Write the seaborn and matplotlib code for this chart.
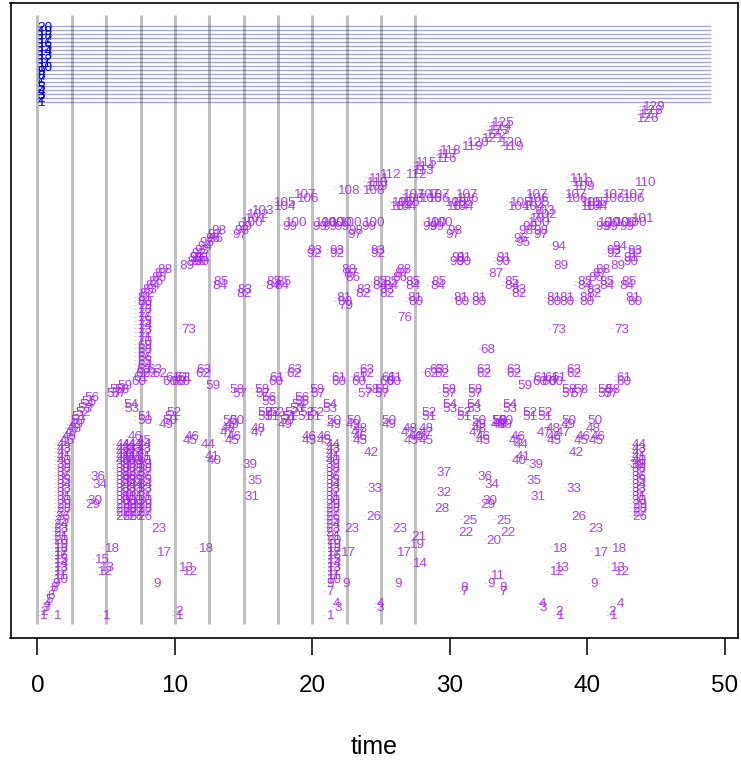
import matplotlib
matplotlib.use("Agg")
import matplotlib.pyplot as plt
import pandas as pd
import seaborn as sns

# ---- main rising curve: ids 1..129 and their times
main_ids = [1,2,3,4,5,6,7,8,9,10,11,12,13,14,15,16,17,18,19,20,21,22,23,24,25,26,27,28,29,30,31,32,33,34,35,36,37,38,39,40,41,42,43,44,
            45,46,47,48,49,50,51,52,53,54,55,56,57,58,59,60,61,62,63,64,65,66,67,68,69,70,71,72,73,74,75,76,77,78,79,80,81,82,83,84,85,86,87,88,
            89,90,91,92,93,94,95,96,97,98,99,100,101,102,103,104,105,106,107,108,109,110,111,112,113,114,115,116,117,118,119,120,121,122,123,124,125,126,127,128,129]
main_times = [.15,.2,.35,.45,.6,.75,.85,.95,1.1,1.15,1.15,1.15,1.15,1.15,1.15,1.15,1.15,1.15,1.15,1.15,1.15,1.15,1.15,1.15,1.25,1.3,1.4,1.4,1.4,1.4,1.4,1.4,1.4,1.4,1.4,1.4,1.4,1.4,1.4,1.4,1.4,1.4,1.4,1.4,
              1.6,1.75,1.95,2.1,2.3,2.4,2.45,2.75,2.9,3.05,3.2,3.4,5,5.25,5.8,6.85,7,7.1,7.2,7.25,7.25,7.25,7.25,7.25,7.25,7.25,7.25,7.25,7.25,7.25,7.25,7.25,7.25,7.25,7.25,7.25,7.25,7.4,7.65,7.85,8.05,8.3,8.5,8.7,
              10.3,10.9,11.05,11.2,11.4,11.6,11.75,12.2,14.15,14.3,14.55,14.7,15,15.2,15.55,17.1,17.15,18.8,18.6,21.8,23.85,23.9,24.05,24.85,27.25,27.3,27.45,28.9,29,29.2,30.8,31.2,32.3,32.55,32.7,32.85,33,43.55,43.7,43.8,43.95]

# ---- vertical stacks of ids
stack_ids = [26,27,28,29,30,31,32,33,34,35,36,37,38,39,40,41,42,43,44]
stack_a_times = [5.7,5.7,5.7,5.7,5.7,5.7,5.7,5.7,5.7,5.7,5.7,5.7,5.7,5.7,5.7,5.7,5.7,5.7,5.7]
stack_b_times = [6.15,6.15,6.15,6.15,6.15,6.15,6.15,6.15,6.15,6.15,6.15,6.15,6.15,6.15,6.15,6.15,6.15,6.15,6.15]
stack_c_times = [6.6,6.6,6.6,6.6,6.6,6.6,6.6,6.6,6.6,6.6,6.6,6.6,6.6,6.6,6.6,6.6,6.6,6.6,6.6]
stack_d_times = [7.25,7.25,7.25,7.25,7.25,7.25,7.25,7.25,7.25,7.25,7.25,7.25,7.25,7.25,7.25,7.25,7.25,7.25,7.25]
stack_e_times = [43.25,43.25,43.25,43.25,43.25,43.25,43.25,43.25,43.25,43.25,43.25,43.25,43.25,43.25,43.25,43.25,43.25,43.25,43.25]
mid_ids = [9,10,11,12,13,14,15,16,17,18,19,20,21,22,23,24,25,26,27,28,29,30,31,32,33,34,35,36,37,38,39,40,41,42,43,44]
mid_times = [21,21,21,21,21,21,21,21,21,21,21,21,21,20.95,20.95,20.95,20.95,20.95,20.95,20.95,20.95,20.95,20.95,20.95,20.95,20.95,20.95,20.95,20.95,20.95,20.95,20.95,20.95,20.95,20.95,20.95]

# ---- scattered ids, left part of the panel
left_ids = [1,1,1,2,9,12,13,15,18,17,18,13,12,23,29,30,34,36,39,35,31,40,41,44,45,46,45,46,47,48,49,50,50,47,48,
            49,50,51,52,50,51,53,54,57,58,62,63,62,60,61,60,61,60,61,62,63,59,58,57,73,45,46,
            82,83,84,85,90,91,90,91,96,97,98]
left_times = [1.1,4.7,10,10,8.45,4.35,4.5,4.15,4.85,8.65,11.65,10.2,10.55,8.3,3.5,3.65,4,3.85,14.9,15.25,15.1,12.3,12.15,11.9,10.6,10.75,13.6,13.75,13.25,13.35,13.6,13.45,13.95,15.5,15.55,
              8.85,9.1,9.25,9.4,7.25,7.25,6.3,6.25,5.4,5.6,7.65,8,8.35,9.1,9.3,9.75,9.95,10,10.2,11.5,11.55,12.2,14,14.15,10.45,7.25,6.55,
              14.45,14.55,12.7,12.8,11.2,11.05,11.45,11.5,12.45,12.35,12.65]

# ---- scattered ids, upper middle
upmid_ids = [99,100,99,100,99,100,100,99,100,97,98,99,100,93,92,93,92,93,92,85,84,85,84,88,87,86,81,80,79,83,82,
             85,84,83,82,85,84,86,87,88,85,84,81,80,85,84,81,80,81,80,76,90,91,90,91,97,98,99,100,99,100,87,
             104,105,104,105,106,107,106,107,106,107,105,104,104,105,106,107,108,112]
upmid_times = [17.8,17.95,20,20.15,20.7,20.65,21.2,21.6,21.95,22.55,22.65,23.55,23.6,19.6,19.55,21.2,21.2,24.2,24.2,16.65,16.55,17.35,17.2,22.1,22.25,22.4,21.75,21.8,21.9,23.2,23.1,
               24.35,24.35,24.85,24.85,25.2,25.2,25.8,25.95,26.1,26.8,26.75,26.9,26.95,28.65,28.55,30.25,30.3,31.55,31.6,26.15,29.95,30.1,30.45,30.5,29.7,29.85,28,28.1,28.5,28.55,32.8,
               25.6,25.7,25.95,26.15,26.45,26.55,27.75,27.6,28.35,28.35,29.6,29.7,30.1,30.1,30.45,30.4,23.6,26.75]

# ---- scattered ids, upper right
upright_ids = [119,120,111,110,109,107,106,105,104,105,104,107,106,107,106,110,104,105,107,106,105,104,103,102,101,100,99,98,97,98,96,95,
               99,100,99,100,99,100,101,100,94,89,94,93,92,93,92,91,90,89,88,87,86,85,84,85,84,83,82,85,84,81,80,
               81,80,81,80,81,80,85,84,83,82,91,90,73,73]
upright_times = [33.8,33.6,38.65,38.8,38.9,38.3,38.35,39.45,39.45,39.8,39.8,41.05,41.05,42.5,42.5,43.4,34.15,34.3,35.45,35.55,35.6,35.25,36,36.1,35.75,35.6,35.25,35,36.1,36.1,34.65,34.75,
                 40.6,40.7,41.2,41.35,42.3,41.95,43.15,42.65,37.4,37.55,41.8,41.4,41.4,42.9,42.9,42.65,42.65,41.7,40.55,40.35,40.1,39.25,39.25,40.85,40.85,39.9,39.9,42.45,42.35,42.8,42.9,
                 37.05,37.05,37.95,37.95,39.4,39.4,34,33.95,34.5,34.45,33.35,33.3,37.35,41.95]

# ---- scattered ids, lower middle
lowmid_ids = [68,63,62,61,60,58,57,56,55,56,55,54,53,58,57,54,53,61,60,60,61,63,62,58,57,58,57,60,61,60,61,
              52,51,52,51,52,51,50,49,52,51,52,51,52,51,50,49,50,49,48,47,46,45,50,49,
              46,45,46,45,42,33,26,23,23,17,17,9,9,7,4,3,4,3,1,
              21,19,14,58,57,58,57,62,63,62,63,63,62,54,53,52,51,54,53,52,51,50,49,48,47,46,45,50,49,
              48,47,46,45,48,47,45,46,37,32,28,36,34,30,29,25,22,20,11,9,8,7]
lowmid_times = [32.25,18.15,18.1,16.85,16.8,15.75,15.85,16.3,16.3,18.7,18.7,18.45,18.3,19.75,19.85,20.7,20.7,21.35,21.35,22.8,22.9,23.4,23.4,23.75,23.25,24.5,24.5,24.85,25,25.35,25.45,
                16,16,16.5,16.5,16.85,17.75,17.6,17.45,17.95,17.8,19.05,18.9,19.75,19.6,21.05,21.05,22.45,22.45,22.9,22.8,22.9,22.9,25.05,25.05,
                19.2,19.2,20.3,20.3,23.75,24,23.9,22.3,25.8,22,26.1,22.15,25.95,21,21.45,21.6,24.65,24.7,21,
                27.2,27.05,27.25,29.35,29.35,31.25,31.25,28.1,28.5,28.85,28.9,31.9,31.9,29.45,29.45,30.5,30.5,31.2,31.2,27.9,27.9,31.6,31.6,31.6,31.4,31.9,31.9,33,33,
                26.55,26.45,27,26.65,27.75,27.75,27.75,27.4,29.05,29,28.85,32.05,32.5,32.35,32.2,30.9,30.65,32.65,32.9,32.7,30.8,30.75]

# ---- scattered ids, lower right
lowright_ids = [25,22,44,45,46,40,41,39,35,31,59,63,62,60,61,60,61,60,61,63,62,58,57,58,57,58,57,58,57,61,60,
                54,53,52,51,52,51,50,50,48,47,47,49,48,46,45,45,46,45,46,
                42,33,26,23,18,18,17,13,12,13,12,9,4,3,2,1,4,2,1,8,7,39,50,49,50,49]
lowright_times = [33.35,33.65,34.65,34.3,34.4,34.5,34.8,35.75,35.6,35.9,34.9,34.1,34.1,36,36.1,36.65,36.85,37.2,37.35,38.45,38.45,38.15,38.15,39,38.8,40.7,40.7,41.35,41.2,42.1,42.1,
                  33.8,33.8,35.25,35.25,36.35,36.35,38.1,40,37,36.35,37.7,38.1,39.9,37.05,37.05,39,39.15,40.1,40.25,
                  38.65,38.5,38.8,40.1,37.45,41.7,40.4,37.55,37.2,41.65,41.95,40.25,36.5,36.55,37.7,37.7,42.15,41.55,41.55,33.6,33.6,43.05,33.5,33.5,33.1,33.1]

# ---- blue reference series and vertical grid
blue_labels = [1,2,3,4,5,6,7,8,9,10,11,12,13,14,15,16,17,18,19,20]
blue_levels = [130,131,132,133,134,135,136,137,138,139,140,141,142,143,144,145,146,147,148,149]
grid_times = [0,2.5,5,7.5,10,12.5,15,17.5,20,22.5,25,27.5]
tick_values = [0,10,20,30,40,50]

ids = (main_ids + stack_ids*5 + mid_ids + left_ids + upmid_ids + upright_ids + lowmid_ids + lowright_ids)
times = (main_times + stack_a_times + stack_b_times + stack_c_times + stack_d_times + stack_e_times + mid_times
         + left_times + upmid_times + upright_times + lowmid_times + lowright_times)
for a, b in [(main_ids, main_times), (mid_ids, mid_times), (left_ids, left_times), (upmid_ids, upmid_times),
             (upright_ids, upright_times), (lowmid_ids, lowmid_times), (lowright_ids, lowright_times)]:
    assert len(a) == len(b), (len(a), len(b))
df = pd.DataFrame({"time": times, "id": ids})

sns.set_theme(style="ticks")
plt.rcParams["font.family"] = ["Liberation Sans", "DejaVu Sans"]

fig = plt.figure(figsize=(7.41, 7.61), dpi=100)
ax = fig.add_axes([10.5/741, 1 - 638/761, (738 - 10.5)/741, (638 - 3)/761])

ax.vlines(grid_times, -1.5, 152, color="#808080", alpha=0.5, lw=2.2, zorder=1)
ax.hlines(blue_levels, 0, 49, color="#000080", alpha=0.35, lw=1.0, zorder=1)

marks = df.assign(time=df["time"] - 0.12)
sns.scatterplot(data=marks, x="time", y="id", marker="_", s=3, linewidth=0.5, color="#a08a70",
                alpha=0.5, ax=ax, legend=False, zorder=2)

for t, i in zip(df["time"], df["id"]):
    ax.annotate(str(i), (t, i), xytext=(0, -1.1), textcoords="offset points", color="#A020F0",
                fontsize=9.7, ha="left", va="center", alpha=0.85, zorder=3)
for lab, lev in zip(blue_labels, blue_levels):
    ax.annotate(str(lab), (0, lev), xytext=(0, -1.1), textcoords="offset points", color="#0000FF",
                fontsize=9.7, ha="left", va="center", zorder=3)

ax.set_xlim(-1.96, 50.96)
ax.set_ylim(-4.9, 154.9)
ax.set_yticks([])
ax.set_ylabel("")
ax.set_xticks(tick_values)
ax.set_xticklabels([str(v) for v in tick_values])
ax.tick_params(axis="x", length=12.5, width=1.1, pad=14.5, labelsize=17.5, colors="black")
for s in ax.spines.values():
    s.set_visible(True)
    s.set_linewidth(1.2)
    s.set_color("black")
ax.set_xlabel("time", fontsize=18, labelpad=27, color="black")

fig.savefig("out.png", dpi=100)
